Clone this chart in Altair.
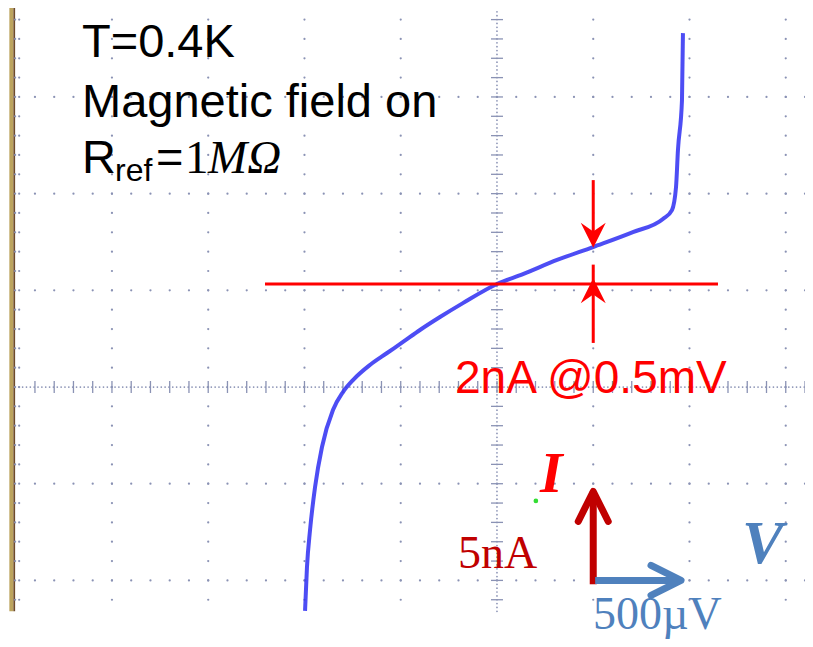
import altair as alt
import numpy as np
import pandas as pd

# I-V trace: bias voltage (mV) and current (nA)
voltage_mV = [-0.997, -0.987, -0.971, -0.945, -0.909, -0.852, -0.800, -0.748,
              -0.660, -0.571, -0.488, -0.400, -0.296, -0.177, 0.000, 0.135,
              0.312, 0.499, 0.706, 0.862, 0.909, 0.930, 0.940, 0.961, 0.966]
current_nA = [-11.58, -9.31, -7.39, -5.17, -3.10, -1.19, -0.26, 0.36,
              1.14, 1.76, 2.33, 2.95, 3.62, 4.34, 5.33, 5.84,
              6.57, 7.24, 8.01, 8.69, 9.15, 10.34, 12.25, 14.84, 18.30]

# graticule (1 division = 500 uV horizontally, 5 nA vertically)
major_v_mV = [-2.0, -1.5, -1.0, -0.5, 0.5, 1.0, 1.5]
major_i_nA = [-10, -5, 5, 10, 15]
minor_step_mV = 0.1
minor_step_nA = 1.0

# "2nA @0.5mV" annotation
ref_level_nA = 5.33
ref_span_mV = [-1.205, 1.148]
mark_V_mV = 0.5
mark_I_nA = 7.2

# scale bar: 5 nA up, 500 uV right
bar_origin = (0.5, -10.0)
bar_I_top_nA = -5.4
bar_V_end_mV = 0.956

# ---------------- scales ----------------
X0, X1 = -2.540, 1.600
Y0, Y1 = -13.03, 19.60
SCR_LEFT, SCR_BOTTOM = -2.504, -11.6
xs = alt.Scale(domain=[X0, X1], nice=False, zero=False)
ys = alt.Scale(domain=[Y0, Y1], nice=False, zero=False)

SANS = "Liberation Sans, Arial, sans-serif"
SERIF = "Liberation Serif, Times New Roman, serif"
DOT = "#8a92b4"

def XY(x="x", y="y"):
    return dict(x=alt.X(f"{x}:Q", scale=xs, axis=None),
                y=alt.Y(f"{y}:Q", scale=ys, axis=None))

# ---------------- graticule dots ----------------
ys_minor = np.arange(-11, 20, minor_step_nA)
xs_minor = np.round(np.arange(-2.4, X1 + 0.001, minor_step_mV), 3)
dots = []
for xv in major_v_mV:
    dots += [(xv, yv) for yv in ys_minor]
for yv in major_i_nA:
    dots += [(xv, yv) for xv in xs_minor]
for yv in ys_minor:  # left-edge ticks
    dots += [(-2.503, yv), (-2.482, yv)]
dots_df = pd.DataFrame(dots, columns=["x", "y"])

dense_v = pd.DataFrame({"x": 0.0, "y": np.arange(SCR_BOTTOM, Y1, 0.2)})
dense_h = pd.DataFrame({"x": np.arange(SCR_LEFT, X1, 0.02), "y": 0.0})
ticks_v = pd.DataFrame({"x": 0.0, "y": ys_minor})
ticks_h = pd.DataFrame({"x": xs_minor, "y": 0.0})

grid = alt.Chart(dots_df).mark_circle(size=5, color=DOT, opacity=1).encode(**XY())
dv = alt.Chart(dense_v).mark_circle(size=3, color=DOT, opacity=1).encode(**XY())
dh = alt.Chart(dense_h).mark_circle(size=3, color=DOT, opacity=1).encode(**XY())
tv = alt.Chart(ticks_v).mark_point(shape="M-1,0L1,0", size=144, filled=False,
                                   strokeWidth=1.3, color=DOT, opacity=1).encode(**XY())
th = alt.Chart(ticks_h).mark_point(shape="M0,-1L0,1", size=144, filled=False,
                                   strokeWidth=1.3, color=DOT, opacity=1).encode(**XY())

# screen border (brown bezel at left)
bezel = pd.DataFrame({"x": [-2.533, -2.512], "x2": [-2.512, -2.503],
                      "y": [SCR_BOTTOM, SCR_BOTTOM], "y2": [Y1, Y1],
                      "c": ["#bca45e", "#6e4b2a"]})
bezel_l = alt.Chart(bezel).mark_rect().encode(
    x=alt.X("x:Q", scale=xs, axis=None), x2="x2", y=alt.Y("y:Q", scale=ys, axis=None), y2="y2",
    color=alt.Color("c:N", scale=None))

# ---------------- trace ----------------
trace = pd.DataFrame({"V": voltage_mV, "I": current_nA, "o": range(len(voltage_mV))})
trace_l = alt.Chart(trace).mark_line(color="#2e2ef2", strokeWidth=4, opacity=0.85,
                                     interpolate="monotone").encode(
    x=alt.X("V:Q", scale=xs, axis=None), y=alt.Y("I:Q", scale=ys, axis=None), order="o:Q")

# ---------------- red annotation ----------------
RED = "#ff0000"
rules = pd.DataFrame({
    "x": [ref_span_mV[0], mark_V_mV, mark_V_mV],
    "x2": [ref_span_mV[1], mark_V_mV, mark_V_mV],
    "y": [ref_level_nA, 10.7, 2.28],
    "y2": [ref_level_nA, mark_I_nA + 0.6, ref_level_nA + 1.0],
})
rules_l = alt.Chart(rules).mark_rule(color=RED, strokeWidth=3).encode(
    x=alt.X("x:Q", scale=xs, axis=None), x2="x2", y=alt.Y("y:Q", scale=ys, axis=None), y2="y2")
head_dn = alt.Chart(pd.DataFrame({"x": [mark_V_mV], "y": [mark_I_nA]})).mark_point(
    shape="M0,0L-1,-2L0,-1.3L1,-2Z", size=625, filled=True, color=RED, opacity=1,
    strokeWidth=0).encode(**XY())
head_up = alt.Chart(pd.DataFrame({"x": [mark_V_mV], "y": [ref_level_nA + 0.3]})).mark_point(
    shape="M0,0L-1,2L0,1.3L1,2Z", size=625, filled=True, color=RED, opacity=1,
    strokeWidth=0).encode(**XY())

# ---------------- scale bar ----------------
DRED, BLUE = "#c00000", "#4f81bd"
bar_i = alt.Chart(pd.DataFrame({"x": [bar_origin[0]], "y": [bar_origin[1] - 0.2],
                                "y2": [bar_I_top_nA]})).mark_rule(
    color=DRED, strokeWidth=7).encode(x=alt.X("x:Q", scale=xs, axis=None),
                                      y=alt.Y("y:Q", scale=ys, axis=None), y2="y2")
bar_v = alt.Chart(pd.DataFrame({"x": [bar_origin[0] + 0.01], "x2": [bar_V_end_mV],
                                "y": [bar_origin[1]]})).mark_rule(
    color=BLUE, strokeWidth=7).encode(x=alt.X("x:Q", scale=xs, axis=None), x2="x2",
                                      y=alt.Y("y:Q", scale=ys, axis=None))
chev_i = alt.Chart(pd.DataFrame({"x": [bar_origin[0]], "y": [bar_I_top_nA]})).mark_point(
    shape="M-1,2L0,0L1,2", size=900, filled=False, strokeWidth=7, strokeCap="round",
    strokeJoin="round", color=DRED, opacity=1).encode(**XY())
chev_v = alt.Chart(pd.DataFrame({"x": [bar_V_end_mV], "y": [bar_origin[1]]})).mark_point(
    shape="M-1,2L0,0L1,2", size=900, angle=90, filled=False, strokeWidth=7, strokeCap="round",
    strokeJoin="round", color=BLUE, opacity=1).encode(**XY())
green = alt.Chart(pd.DataFrame({"x": [0.202], "y": [-5.89]})).mark_circle(
    size=22, color="#33dd33", opacity=1).encode(**XY())

# ---------------- texts ----------------
def label(txt, px, py, size, color="black", font=SANS, style="normal", weight="normal"):
    return alt.Chart(alt.Data(values=[{"label": txt}])).mark_text(
        align="left", baseline="alphabetic", font=font, fontSize=size,
        fontStyle=style, fontWeight=weight, color=color).encode(
        x=alt.value(px), y=alt.value(py), text="label:N")

texts = [
    label("T=0.4K", 74, 49, 47),
    label("Magnetic field on", 74, 109, 47),
    label("R", 74, 165, 47),
    label("ref", 107, 173, 32),
    label("=", 148, 165, 47),
    label("1", 177, 165, 47, font=SERIF),
    label("MΩ", 200, 165, 47, font=SERIF, style="italic"),
    label("2nA @0.5mV", 447, 385, 46, color=RED),
    label("I", 532, 484, 58, color=RED, font=SERIF, style="italic", weight="bold"),
    label("V", 734, 555, 62, color=BLUE, font=SERIF, style="italic", weight="bold"),
    label("5nA", 450, 560, 46, color=DRED, font=SERIF),
    label("500µV", 585, 621, 46, color=BLUE, font=SERIF),
]

chart = alt.layer(
    bezel_l, grid, dv, dh, tv, th, trace_l, rules_l, head_dn, head_up,
    bar_i, bar_v, chev_i, chev_v, green, *texts
).properties(
    width=797, height=631, padding=0,
    autosize=alt.AutoSizeParams(type="none"),
).configure_view(stroke=None)

chart.save("out.html", embed_options={"renderer": "svg", "actions": False})
